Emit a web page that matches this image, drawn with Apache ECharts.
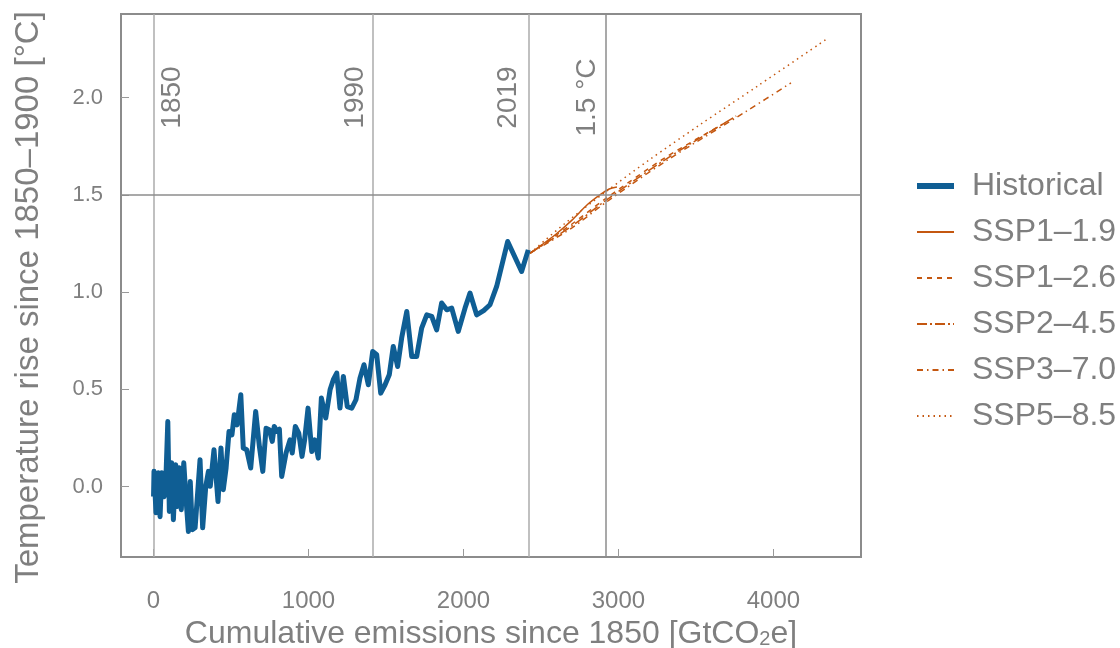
<!DOCTYPE html>
<html>
<head>
<meta charset="utf-8">
<script src="https://cdn.jsdelivr.net/npm/echarts@6/dist/echarts.min.js"></script>
<style>
  html, body { margin: 0; padding: 0; background: #fff; }
  #chart { width: 1120px; height: 648px; }
</style>
</head>
<body>
<div id="chart"></div>
<script>
// 历史数据: [累计排放 GtCO2e, 升温 °C]
var historical = [
  [0,-0.05],[3,0.079],[16,-0.134],[31,0.072],[42,-0.154],[53,0.072],[68,-0.051],[81,0.072],
  [92,0.335],[102,-0.127],[117,0.123],[128,-0.169],[143,0.113],[154,-0.101],[166,0.098],[179,-0.118],
  [195,0.123],[210,-0.067],[225,-0.230],[237,0.027],[250,-0.221],[268,-0.211],[283,-0.050],[300,0.139],
  [317,-0.211],[337,0.002],[354,0.079],[366,0.002],[390,0.190],[416,-0.076],[435,0.199],[450,-0.015],
  [468,0.096],[487,0.284],[506,0.267],[521,0.370],[539,0.318],[563,0.473],[579,0.199],[601,0.190],
  [627,0.096],[659,0.387],[683,0.207],[705,0.079],[726,0.301],[747,0.293],[766,0.233],[779,0.310],
  [795,0.284],[812,0.296],[827,0.053],[855,0.173],[881,0.241],[895,0.173],[915,0.310],[937,0.276],
  [958,0.156],[975,0.241],[997,0.404],[1021,0.181],[1040,0.241],[1063,0.147],[1083,0.456],[1111,0.353],
  [1139,0.498],[1160,0.550],[1182,0.584],[1203,0.404],[1225,0.567],[1250,0.412],[1279,0.404],[1306,0.447],
  [1332,0.558],[1358,0.627],[1386,0.524],[1414,0.695],[1440,0.678],[1466,0.481],[1494,0.524],[1521,0.575],
  [1547,0.721],[1575,0.618],[1601,0.764],[1634,0.900],[1666,0.669],[1698,0.669],[1730,0.815],[1763,0.883],
  [1795,0.875],[1827,0.806],[1859,0.944],[1892,0.909],[1924,0.918],[1966,0.798],[2010,0.918],[2042,0.995],
  [2085,0.883],[2130,0.905],[2171,0.935],[2214,1.029],[2285,1.260],[2375,1.106],[2418,1.217]
];

// 情景预估
var ssp119 = [[2430,1.20],[2500,1.24],[2600,1.30],[2700,1.37],[2800,1.45],[2880,1.50],[2940,1.53],[2990,1.54]];
var ssp126 = [[2430,1.20],[2700,1.35],[2917,1.48],[3300,1.69],[3700,1.875]];
var ssp245 = [[2430,1.20],[2700,1.34],[2917,1.47],[3300,1.68],[3760,1.905]];
var ssp370 = [[2430,1.20],[2700,1.33],[2917,1.46],[3300,1.67],[3827,1.93],[4113,2.075]];
var ssp585 = [[2430,1.20],[2650,1.35],[2917,1.515],[3200,1.68],[3526,1.86],[3900,2.06],[4352,2.305]];

var seriesNames = ['Historical','SSP1–1.9','SSP1–2.6','SSP2–4.5','SSP3–7.0','SSP5–8.5'];

// 参考线
var yearLines = [{name:'1850', x:0}, {name:'1990', x:1416}, {name:'2019', x:2418}];
var limitX = 2917;   // 1.5 °C 对应的累计排放
var limitY = 1.5;

var xTicks = [0, 1000, 2000, 3000, 4000];
var yTicks = [0, 0.5, 1.0, 1.5, 2.0];

var grayText = '#7f7f7f';
var axisGray = '#8c8c8c';
var histColor = '#0f5e94';
var sspColor = '#c45710';
var font = 'Liberation Sans, Arial, sans-serif';

function sspSeries(name, data, dash) {
    return {
        name: name,
        type: 'line',
        data: data,
        symbol: 'none',
        smooth: 0.3,
        z: 4,
        lineStyle: {color: sspColor, width: 1.5, type: dash},
        itemStyle: {color: sspColor}
    };
}

// 旋转后 offset 的第二个分量对应屏幕水平方向
var labelOffsets = [19, -18, -20];

var chart = echarts.init(document.getElementById('chart'), null, {renderer: 'canvas'});
var option = {
    animation: false,
    textStyle: {fontFamily: font},
    grid: {
        left: 121, top: 14, right: 259, bottom: 91,
        show: true, borderColor: axisGray, borderWidth: 2,
        outerBoundsMode: 'none'
    },
    legend: {
        orient: 'vertical',
        left: 914,
        top: 170,
        padding: 0,
        itemWidth: 37,
        itemHeight: 14,
        itemGap: 14,
        data: seriesNames.map(function (n, i) {
            return i === 0 ? {name: n, lineStyle: {width: 6, color: histColor}} : {name: n};
        }),
        itemStyle: {opacity: 0},
        textStyle: {fontSize: 32, color: grayText, fontFamily: font, padding: [0, 0, 0, 13]}
    },
    xAxis: {
        type: 'value',
        min: -210,
        max: 4565,
        name: 'Cumulative emissions since 1850 [GtCO{sub|2}e]',
        nameLocation: 'middle',
        nameGap: 60,
        nameTextStyle: {
            fontSize: 32, color: grayText, fontFamily: font,
            rich: {sub: {fontSize: 20, color: grayText, verticalAlign: 'bottom', padding: [12, 0, 0, 0]}}
        },
        axisLine: {onZero: false, lineStyle: {color: axisGray, width: 2}},
        axisTick: {inside: true, length: 8, customValues: xTicks, lineStyle: {color: '#999', width: 1}},
        axisLabel: {
            customValues: xTicks, fontSize: 24, color: grayText, margin: 32,
            formatter: function (v) { return String(v); }
        },
        splitLine: {show: false}
    },
    yAxis: {
        type: 'value',
        min: -0.361,
        max: 2.429,
        name: 'Temperature rise since 1850–1900 [°C]',
        nameLocation: 'middle',
        nameGap: 76,
        nameTextStyle: {fontSize: 33, color: grayText, fontFamily: font, padding: [0, 24, 0, 0]},
        axisLine: {show: true, onZero: false, lineStyle: {color: axisGray, width: 2}},
        axisTick: {show: true, inside: true, length: 8, customValues: yTicks, lineStyle: {color: '#999', width: 1}},
        axisLabel: {
            customValues: yTicks, fontSize: 22, color: grayText, margin: 18,
            formatter: function (v) { return v.toFixed(1); }
        },
        splitLine: {show: false}
    },
    series: [
        {
            name: 'Historical',
            type: 'line',
            data: historical,
            symbol: 'none',
            z: 5,
            lineStyle: {color: histColor, width: 5, join: 'round'},
            itemStyle: {color: histColor},
            markLine: {
                silent: true,
                symbol: 'none',
                label: {show: false},
                lineStyle: {color: '#ababab', width: 1.5, type: 'solid'},
                data: yearLines.map(function (d) { return {xAxis: d.x}; })
            },
            markPoint: {
                silent: true,
                symbol: 'circle',
                symbolSize: 0,
                data: yearLines.map(function (d, i) {
                    return {
                        name: d.name, coord: [d.x, 2.0],
                        label: {offset: [0, labelOffsets[i]]}
                    };
                }),
                label: {
                    show: true, position: 'inside', rotate: 90,
                    formatter: '{b}', fontSize: 28, color: grayText, fontFamily: font
                }
            }
        },
        Object.assign(sspSeries('SSP1–1.9', ssp119, 'solid'), {
            markLine: {
                silent: true,
                symbol: 'none',
                label: {show: false},
                lineStyle: {color: axisGray, width: 1.5, type: 'solid'},
                data: [{xAxis: limitX}, {yAxis: limitY}]
            },
            markPoint: {
                silent: true,
                symbol: 'circle',
                symbolSize: 0,
                data: [{name: '1.5 °C', coord: [limitX, 2.0], label: {offset: [0, -18]}}],
                label: {
                    show: true, position: 'inside', rotate: 90,
                    formatter: '{b}', fontSize: 28, color: grayText, fontFamily: font
                }
            }
        }),
        sspSeries('SSP1–2.6', ssp126, [5, 5]),
        sspSeries('SSP2–4.5', ssp245, [10, 3, 2, 3]),
        sspSeries('SSP3–7.0', ssp370, [6, 4, 1.5, 4]),
        sspSeries('SSP5–8.5', ssp585, [1.5, 4])
    ]
};
chart.setOption(option);
</script>
</body>
</html>
